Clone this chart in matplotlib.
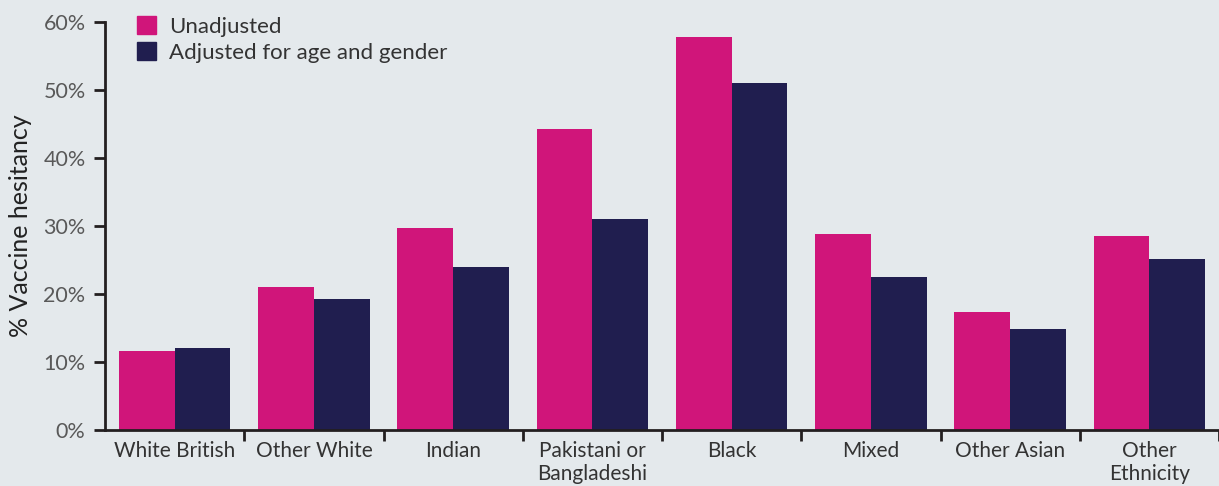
import matplotlib
matplotlib.use("Agg")
import matplotlib.pyplot as plt
import numpy as np
from matplotlib.patches import Patch

categories = ["White British", "Other White", "Indian", "Pakistani or\nBangladeshi",
              "Black", "Mixed", "Other Asian", "Other\nEthnicity"]
unadjusted = [11.6, 21.0, 29.7, 44.3, 57.8, 28.8, 17.4, 28.5]
adjusted = [12.1, 19.3, 24.0, 31.0, 51.0, 22.5, 14.9, 25.1]
series_names = ["Unadjusted", "Adjusted for age and gender"]
yticks = [0, 10, 20, 30, 40, 50, 60]
ylabel = "% Vaccine hesitancy"

bg = "#E4E9EC"
c1 = "#D0157A"
c2 = "#201E4F"
axc = "#231F20"
txt = "#595959"

plt.rcParams['font.family'] = ['Lato', 'DejaVu Sans']

fig = plt.figure(figsize=(12.19, 4.86), dpi=100, facecolor=bg)
ax = fig.add_axes([105/1219, 56/486, 1 - 105/1219, 408/486])
ax.set_facecolor(bg)

x = np.arange(len(categories))
w = 0.4
ax.bar(x - w/2, unadjusted, w, color=c1, label=series_names[0])
ax.bar(x + w/2, adjusted, w, color=c2, label=series_names[1])

ax.set_ylim(0, 60)
ax.set_xlim(-0.5, (1219 - 175) / 140)
ax.set_yticks(yticks)
ax.set_yticklabels([f"{v}%" for v in yticks], fontsize=15.5, color=txt)
ax.set_xticks(x)
ax.set_xticklabels(categories, fontsize=15, color="#333333", linespacing=1.15)
ax.set_xticks(np.arange(len(categories)) + 0.5, minor=True)
ax.tick_params(axis='x', which='major', length=0, pad=8)
ax.tick_params(axis='x', which='minor', length=8, width=2, color=axc)
ax.tick_params(axis='y', length=8, width=2, color=axc, pad=6)
for s in ["top", "right"]:
    ax.spines[s].set_visible(False)
for s in ["left", "bottom"]:
    ax.spines[s].set_linewidth(2)
    ax.spines[s].set_color(axc)

ax.set_ylabel(ylabel, fontsize=18, color="#222222", labelpad=8)

handles = [Patch(color=c1), Patch(color=c2)]
fig.legend(handles, series_names, loc="upper left", bbox_to_anchor=(117/1219, 1 + 4/486),
           frameon=False, fontsize=16, handlelength=0.85, handleheight=0.85,
           handletextpad=0.6, labelspacing=0.25, labelcolor="#333333")

fig.savefig("out.png", dpi=100, facecolor=bg)
